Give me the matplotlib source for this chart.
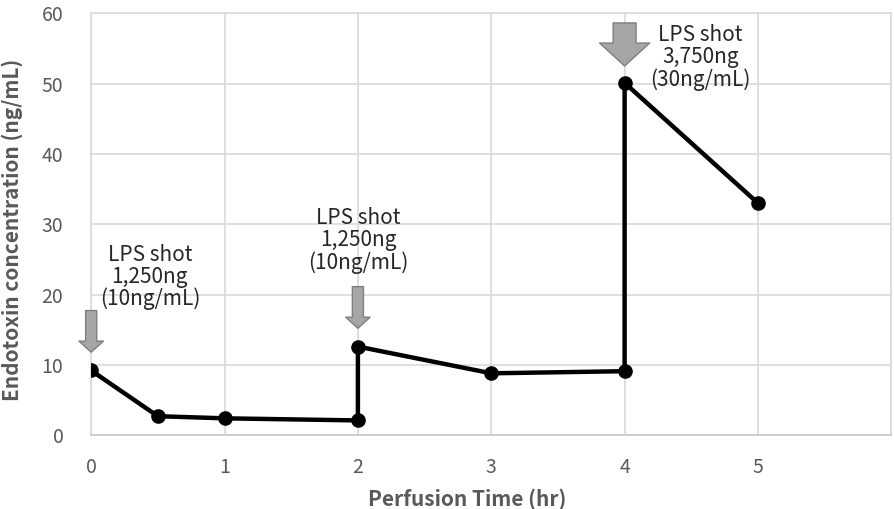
import matplotlib
matplotlib.use("Agg")
import matplotlib.pyplot as plt

plt.rcParams['font.family'] = ['Noto Sans CJK JP', 'DejaVu Sans']

# perfusion data (hr, ng/mL)
time_hr = [0, 0.5, 1, 2, 2, 3, 4, 4, 5]
endotoxin = [9.2, 2.7, 2.4, 2.1, 12.6, 8.8, 9.1, 50.1, 33.0]

# LPS shots: where the arrow points, label text and label position
shot_x = [0, 2, 4]
shot_tip = [11.8, 15.2, 52.5]
shot_labels = ["LPS shot\n1,250ng\n(10ng/mL)",
               "LPS shot\n1,250ng\n(10ng/mL)",
               "LPS shot\n3,750ng\n(30ng/mL)"]
label_x = [0.44, 2.0, 4.57]
label_y = [22.5, 27.7, 53.7]

grid_c = '#d9d9d9'
text_c = '#595959'

fig = plt.figure(figsize=(8.94, 5.09), dpi=100)
ax = fig.add_axes([0.102, 0.145, 0.895, 0.829])

ax.plot(time_hr, endotoxin, color='black', lw=3.2, marker='o', ms=9.5,
        solid_joinstyle='round', zorder=3)

ax.set_xlim(0, 6)
ax.set_ylim(0, 60)
ax.set_xticks([0, 1, 2, 3, 4, 5, 6])
ax.set_xticklabels(['0', '1', '2', '3', '4', '5', ''])
ax.set_yticks(range(0, 61, 10))
ax.grid(True, color=grid_c, lw=1.2)
ax.set_axisbelow(True)
for s in ax.spines.values():
    s.set_color(grid_c)
    s.set_linewidth(1.2)
ax.spines['bottom'].set_color('#c8c8c8')
ax.tick_params(length=0, colors=text_c, labelsize=14, pad=16)
ax.tick_params(axis='y', pad=20)

ax.set_xlabel('Perfusion Time (hr)', color=text_c, fontsize=15,
              fontweight='bold', labelpad=4)
ax.xaxis.set_label_coords(0.47, -0.125)
ax.set_ylabel('Endotoxin concentration (ng/mL)', color=text_c, fontsize=15,
              fontweight='bold', labelpad=4)
ax.yaxis.set_label_coords(-0.085, 0.486)

# arrows for the shots (last one is bigger)
for i, (x, tip) in enumerate(zip(shot_x, shot_tip)):
    if i == 2:
        style = 'simple,head_length=1.1,head_width=2.4,tail_width=1.1'
        mut = 15
        off = 31
    else:
        style = 'simple,head_length=1.0,head_width=2.2,tail_width=1.0'
        mut = 8
        off = 30
    ax.annotate('', xy=(x, tip), xytext=(0, off), textcoords='offset points',
                arrowprops=dict(arrowstyle=style, mutation_scale=mut,
                                fc='#a6a6a6', ec='#7f7f7f', lw=1, shrinkA=0,
                                shrinkB=0),
                annotation_clip=False, zorder=4)

for x, y, lab in zip(label_x, label_y, shot_labels):
    ax.text(x, y, lab, ha='center', va='center', fontsize=15,
            color='#262626', linespacing=1.0, zorder=5)

fig.savefig('out.png', dpi=100)
